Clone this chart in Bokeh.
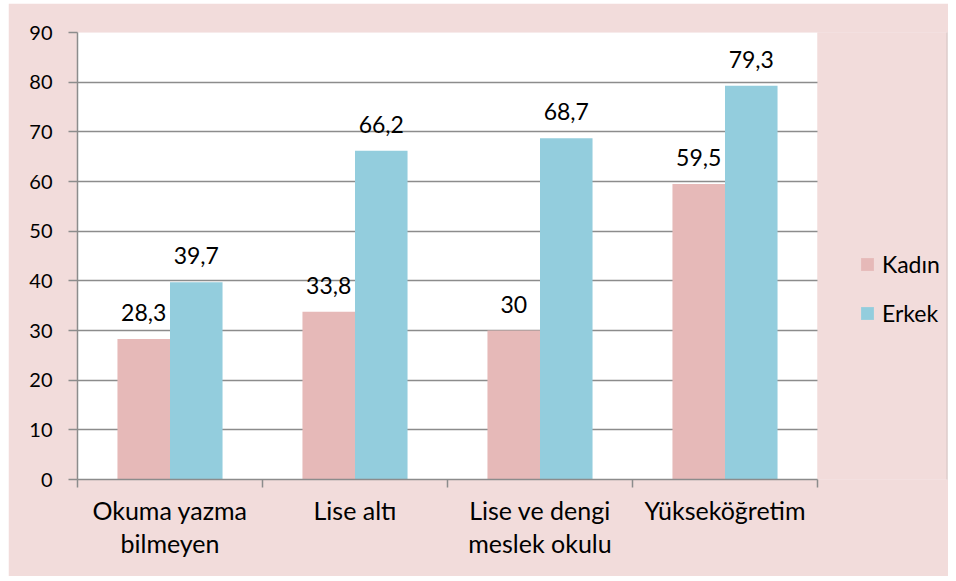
from bokeh.plotting import figure
from bokeh.models import (ColumnDataSource, Range1d, FixedTicker, LabelSet,
                          Legend, LegendItem, BoxAnnotation)
from bokeh.core.properties import value
from bokeh.embed import file_html
from bokeh.resources import INLINE

categories = ["Okuma yazma\nbilmeyen", "Lise altı", "Lise ve dengi\nmeslek okulu", "Yükseköğretim"]
kadin = [28.3, 33.8, 30.0, 59.5]
erkek = [39.7, 66.2, 68.7, 79.3]
kadin_labels = ["28,3", "33,8", "30", "59,5"]
erkek_labels = ["39,7", "66,2", "68,7", "79,3"]
series_names = ["Kadın", "Erkek"]
y_ticks = [0, 10, 20, 30, 40, 50, 60, 70, 80, 90]
y_max = 90

FONT = "Lato"
BG = "#F2DCDB"
GRAY = "#8c8c8c"
C_K = "#E6B9B8"
C_E = "#93CDDD"
BAR_W = 0.284

n = len(categories)
centers = [i + 0.5 for i in range(n)]
src_k = ColumnDataSource(dict(x=[c - BAR_W / 2 for c in centers], top=kadin, lab=kadin_labels))
src_e = ColumnDataSource(dict(x=[c + BAR_W / 2 for c in centers], top=erkek, lab=erkek_labels))

W, H = 940, 573
BL, BR = 69, 1
PLOT_W = 740                       # pixel width of the white plotting area
frame_w = W - BL - BR
x_end = n * frame_w / PLOT_W       # frame extends to the right to hold the legend

p = figure(width=W, height=H, output_backend="svg", toolbar_location=None,
           x_range=Range1d(0, x_end), y_range=Range1d(0, y_max),
           min_border_left=BL, min_border_right=BR, min_border_top=29, min_border_bottom=97)
p.background_fill_color = BG
p.border_fill_color = BG
p.outline_line_color = None
p.styles = {"margin-left": "8px", "margin-top": "3px"}

# white plotting area (categories 0..n, values 0..y_max)
p.add_layout(BoxAnnotation(left=0, right=n, bottom=0, top=y_max,
                           fill_color="white", fill_alpha=1, line_color=None, level="image"))
# uniform pink panel right of the plotting area (hides frame seams)
p.add_layout(BoxAnnotation(left=BL + PLOT_W, right=W - 2, top=2, bottom=H - 2,
                           left_units="canvas", right_units="canvas",
                           top_units="canvas", bottom_units="canvas",
                           fill_color=BG, fill_alpha=1, line_color=None, level="image"))
# outer chart border
p.add_layout(BoxAnnotation(left=1, right=W - 1, top=1, bottom=H - 1,
                           left_units="canvas", right_units="canvas",
                           top_units="canvas", bottom_units="canvas",
                           fill_alpha=0, line_color=GRAY, line_width=2, level="overlay"))

rk = p.vbar(x="x", top="top", width=BAR_W, source=src_k, fill_color=C_K, line_color=None)
re_ = p.vbar(x="x", top="top", width=BAR_W, source=src_e, fill_color=C_E, line_color=None)

for src in (src_k, src_e):
    p.add_layout(LabelSet(x="x", y="top", text="lab", source=src, y_offset=18,
                          text_align="center", text_baseline="alphabetic",
                          text_font=value(FONT), text_font_size=value("23px"),
                          text_color="black"))

# y axis
p.yaxis.ticker = FixedTicker(ticks=y_ticks)
p.yaxis.major_tick_out = 9
p.yaxis.major_tick_in = 0
p.yaxis.minor_tick_out = 0
p.yaxis.minor_tick_in = 0
p.yaxis.major_label_standoff = 16
p.yaxis.major_label_text_font = FONT
p.yaxis.major_label_text_font_size = "20px"
p.yaxis.major_label_text_color = "black"
p.yaxis.axis_line_color = GRAY
p.yaxis.axis_line_width = 1.5
p.yaxis.major_tick_line_color = GRAY
p.yaxis.major_tick_line_width = 1.5

# x axis
p.xaxis.bounds = (0, n)
p.xaxis.ticker = FixedTicker(ticks=centers, minor_ticks=list(range(n + 1)))
p.xaxis.major_label_overrides = {c: lab for c, lab in zip(centers, categories)}
p.xaxis.major_tick_out = 0
p.xaxis.major_tick_in = 0
p.xaxis.minor_tick_out = 8
p.xaxis.minor_tick_in = 0
p.xaxis.minor_tick_line_color = GRAY
p.xaxis.minor_tick_line_width = 1.5
p.xaxis.major_label_standoff = 7
p.xaxis.major_label_text_font = FONT
p.xaxis.major_label_text_font_size = "25px"
p.xaxis.major_label_text_line_height = 1.1
p.xaxis.major_label_text_color = "black"
p.xaxis.axis_line_color = GRAY
p.xaxis.axis_line_width = 1.5

p.xgrid.grid_line_color = None
p.ygrid.ticker = FixedTicker(ticks=y_ticks)
p.ygrid.cross_bounds = (0, n)
p.ygrid.grid_line_color = GRAY
p.ygrid.grid_line_width = 1.3

legend = Legend(items=[LegendItem(label=series_names[0], renderers=[rk]),
                       LegendItem(label=series_names[1], renderers=[re_])],
                location=(782, 152), orientation="vertical",
                padding=0, margin=0, spacing=21,
                glyph_width=16, glyph_height=16, label_height=20, label_standoff=7,
                label_text_font=FONT, label_text_font_size="23px", label_text_color="black",
                border_line_color=None, background_fill_alpha=0)
p.add_layout(legend, "center")

open("out.html", "w").write(file_html(p, INLINE))
